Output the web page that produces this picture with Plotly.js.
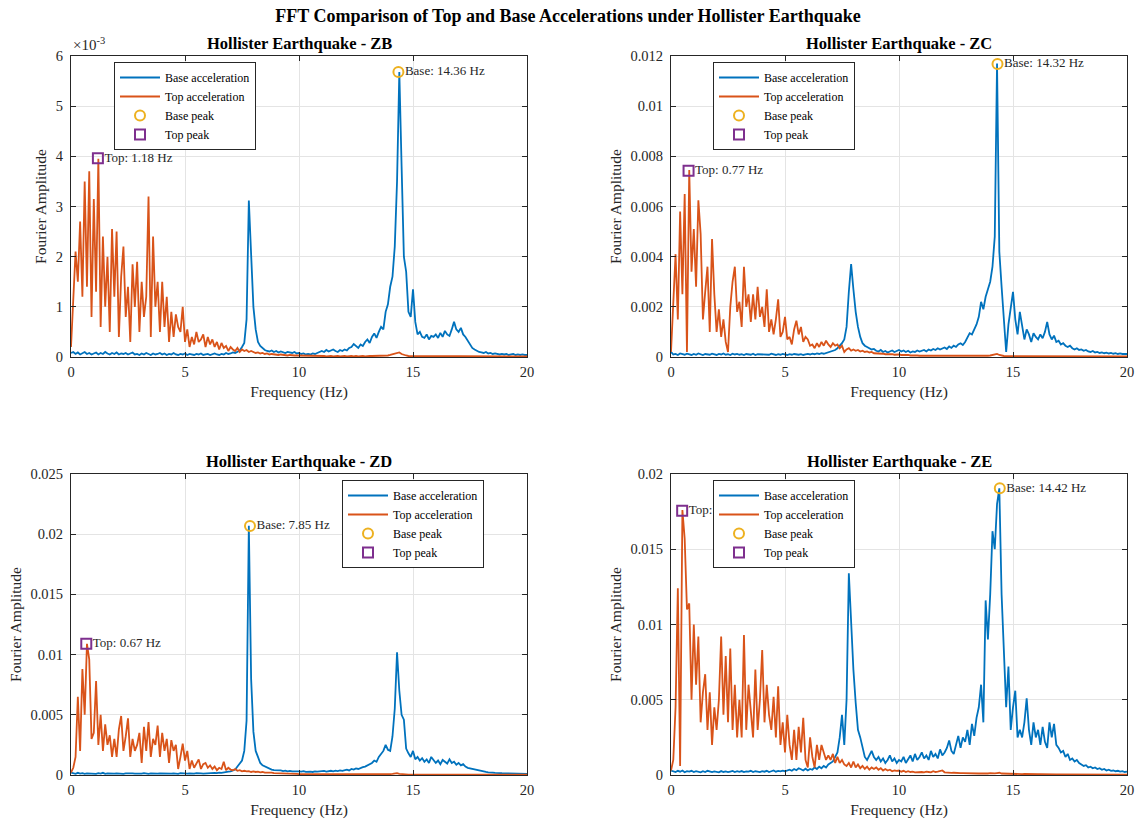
<!DOCTYPE html>
<html>
<head>
<meta charset="utf-8">
<script src="https://cdn.plot.ly/plotly-3.0.1.min.js"></script>
<style>html,body{margin:0;padding:0;background:#fff;}#chart{width:1136px;height:821px;}</style>
</head>
<body>
<div id="chart"></div>
<script>
// Frequency grid (Hz)
const freq = [
0,0.1,0.2,0.3,0.4,0.5,0.6,0.7,0.8,0.9,
1,1.1,1.2,1.3,1.4,1.5,1.6,1.7,1.8,1.9,
2,2.1,2.2,2.3,2.4,2.5,2.6,2.7,2.8,2.9,
3,3.1,3.2,3.3,3.4,3.5,3.6,3.7,3.8,3.9,
4,4.1,4.2,4.3,4.4,4.5,4.6,4.7,4.8,4.9,
5,5.1,5.2,5.3,5.4,5.5,5.6,5.7,5.8,5.9,
6,6.1,6.2,6.3,6.4,6.5,6.6,6.7,6.8,6.9,
7,7.1,7.2,7.3,7.4,7.5,7.6,7.7,7.8,7.9,
8,8.1,8.2,8.3,8.4,8.5,8.6,8.7,8.8,8.9,
9,9.1,9.2,9.3,9.4,9.5,9.6,9.7,9.8,9.9,
10,10.1,10.2,10.3,10.4,10.5,10.6,10.7,10.8,10.9,
11,11.1,11.2,11.3,11.4,11.5,11.6,11.7,11.8,11.9,
12,12.1,12.2,12.3,12.4,12.5,12.6,12.7,12.8,12.9,
13,13.1,13.2,13.3,13.4,13.5,13.6,13.7,13.8,13.9,
14,14.1,14.2,14.3,14.4,14.5,14.6,14.7,14.8,14.9,
15,15.1,15.2,15.3,15.4,15.5,15.6,15.7,15.8,15.9,
16,16.1,16.2,16.3,16.4,16.5,16.6,16.7,16.8,16.9,
17,17.1,17.2,17.3,17.4,17.5,17.6,17.7,17.8,17.9,
18,18.1,18.2,18.3,18.4,18.5,18.6,18.7,18.8,18.9,
19,19.1,19.2,19.3,19.4,19.5,19.6,19.7,19.8,19.9,
20];

// Fourier amplitudes, in units of 1e-3
const zbBase = [
0.08,0.10,0.06,0.09,0.05,0.07,0.10,0.06,0.08,0.05,
0.07,0.09,0.05,0.08,0.06,0.10,0.07,0.05,0.08,0.06,
0.09,0.05,0.07,0.06,0.08,0.05,0.07,0.09,0.05,0.06,
0.04,0.07,0.05,0.08,0.06,0.04,0.07,0.05,0.06,0.08,
0.05,0.07,0.04,0.06,0.05,0.08,0.05,0.04,0.06,0.05,
0.07,0.04,0.06,0.05,0.04,0.06,0.05,0.07,0.04,0.05,
0.06,0.04,0.05,0.07,0.05,0.04,0.06,0.05,0.08,0.06,
0.07,0.09,0.08,0.10,0.13,0.20,0.28,0.75,3.12,2.05,
1.00,0.55,0.30,0.22,0.18,0.14,0.12,0.11,0.13,0.10,
0.12,0.09,0.11,0.10,0.08,0.10,0.09,0.08,0.10,0.07,
0.08,0.06,0.07,0.05,0.06,0.05,0.07,0.06,0.08,0.10,
0.12,0.10,0.14,0.11,0.13,0.15,0.12,0.10,0.14,0.12,
0.15,0.13,0.18,0.20,0.26,0.22,0.18,0.25,0.22,0.30,
0.35,0.28,0.40,0.47,0.38,0.50,0.60,0.55,0.90,1.05,
1.40,1.60,2.20,3.50,5.68,3.80,2.00,1.70,0.90,0.80,
1.35,0.70,0.45,0.50,0.40,0.38,0.45,0.35,0.42,0.40,
0.45,0.38,0.48,0.40,0.52,0.45,0.42,0.55,0.70,0.55,
0.50,0.58,0.45,0.40,0.32,0.25,0.18,0.15,0.12,0.10,
0.09,0.08,0.10,0.07,0.08,0.06,0.07,0.06,0.05,0.06,
0.05,0.06,0.04,0.05,0.06,0.04,0.05,0.04,0.05,0.04,
0.04];
const zbTop = [
0.20,1.10,2.10,1.50,2.70,1.20,3.50,1.40,3.70,0.80,
3.15,1.30,3.95,0.60,2.40,1.00,2.00,0.50,2.55,1.20,
2.50,0.40,1.60,2.20,0.80,1.40,0.30,1.85,1.00,1.90,
0.50,1.50,0.80,1.20,3.20,0.40,2.40,1.00,1.50,0.50,
1.50,0.60,1.20,0.30,0.90,0.40,0.85,0.60,0.50,1.00,
0.30,0.55,0.20,0.40,0.25,0.50,0.30,0.35,0.45,0.20,
0.40,0.25,0.35,0.20,0.30,0.15,0.28,0.18,0.22,0.12,
0.20,0.15,0.12,0.18,0.10,0.15,0.12,0.14,0.10,0.12,
0.10,0.08,0.09,0.07,0.08,0.06,0.07,0.05,0.06,0.05,
0.05,0.04,0.05,0.04,0.04,0.03,0.04,0.03,0.03,0.03,
0.03,0.02,0.03,0.02,0.02,0.03,0.02,0.02,0.02,0.02,
0.02,0.02,0.01,0.02,0.02,0.01,0.02,0.02,0.01,0.02,
0.02,0.01,0.02,0.02,0.01,0.02,0.01,0.02,0.02,0.01,
0.02,0.02,0.02,0.02,0.02,0.02,0.03,0.02,0.03,0.03,
0.04,0.05,0.06,0.07,0.09,0.06,0.04,0.03,0.02,0.02,
0.02,0.02,0.01,0.02,0.01,0.02,0.01,0.01,0.02,0.01,
0.01,0.02,0.01,0.01,0.02,0.01,0.01,0.02,0.01,0.01,
0.01,0.01,0.02,0.01,0.01,0.01,0.02,0.01,0.01,0.01,
0.01,0.01,0.01,0.01,0.01,0.01,0.01,0.01,0.01,0.01,
0.01,0.01,0.01,0.01,0.01,0.01,0.01,0.01,0.01,0.01,
0.01];
const zcBase = [
0.20,0.10,0.12,0.08,0.14,0.10,0.09,0.13,0.11,0.08,
0.12,0.09,0.14,0.10,0.08,0.12,0.11,0.09,0.13,0.10,
0.08,0.12,0.10,0.14,0.09,0.11,0.08,0.13,0.10,0.12,
0.09,0.11,0.08,0.12,0.10,0.09,0.13,0.08,0.11,0.10,
0.12,0.08,0.10,0.09,0.13,0.10,0.08,0.11,0.09,0.12,
0.10,0.08,0.11,0.09,0.12,0.10,0.09,0.11,0.08,0.10,
0.12,0.10,0.13,0.11,0.14,0.12,0.15,0.13,0.16,0.18,
0.20,0.22,0.28,0.35,0.45,0.55,0.70,1.20,2.60,3.70,
2.70,1.80,1.20,0.80,0.55,0.45,0.40,0.35,0.30,0.32,
0.25,0.22,0.28,0.20,0.24,0.18,0.22,0.26,0.20,0.24,
0.28,0.22,0.26,0.20,0.25,0.18,0.22,0.20,0.26,0.22,
0.25,0.28,0.22,0.30,0.26,0.32,0.28,0.35,0.30,0.34,
0.38,0.32,0.42,0.36,0.45,0.40,0.50,0.55,0.48,0.60,
0.80,0.95,0.90,1.10,1.30,1.60,2.20,1.90,2.40,2.70,
3.00,3.60,4.80,11.70,4.20,2.80,1.60,0.20,1.30,2.00,
2.60,1.50,0.90,1.80,1.20,0.70,1.10,0.90,0.60,0.95,
0.80,0.70,0.90,0.75,1.00,1.40,0.90,0.70,0.85,0.60,
0.65,0.50,0.55,0.45,0.40,0.45,0.35,0.30,0.35,0.28,
0.30,0.25,0.28,0.22,0.20,0.24,0.18,0.20,0.16,0.18,
0.15,0.17,0.14,0.16,0.13,0.15,0.12,0.14,0.12,0.13,
0.12];
const zcTop = [
0.20,2.30,4.10,1.50,5.80,2.50,6.50,0.20,7.45,3.40,
5.10,2.80,6.25,4.90,1.50,2.60,3.60,1.00,4.70,2.50,
1.00,1.90,0.80,1.50,0.60,0.20,2.00,3.00,3.60,1.80,
2.20,1.20,3.60,2.00,2.50,1.40,2.50,1.50,2.80,1.60,
2.00,1.20,2.70,1.00,1.50,0.90,1.50,2.30,0.80,1.00,
1.60,0.70,0.80,0.50,1.10,1.45,0.90,1.20,0.60,0.80,
0.70,0.45,0.50,0.35,0.55,0.40,0.60,0.45,0.65,0.50,
0.40,0.55,0.45,0.50,0.35,0.45,0.20,0.30,0.35,0.25,
0.30,0.25,0.28,0.22,0.25,0.20,0.22,0.18,0.20,0.15,
0.15,0.14,0.12,0.13,0.11,0.12,0.10,0.11,0.09,0.10,
0.10,0.08,0.09,0.07,0.08,0.06,0.07,0.06,0.06,0.05,
0.05,0.05,0.04,0.05,0.04,0.04,0.03,0.04,0.03,0.03,
0.03,0.03,0.03,0.03,0.03,0.03,0.03,0.03,0.03,0.03,
0.03,0.03,0.03,0.03,0.03,0.03,0.04,0.04,0.05,0.05,
0.06,0.08,0.10,0.12,0.08,0.05,0.04,0.03,0.03,0.03,
0.03,0.02,0.03,0.02,0.02,0.03,0.02,0.02,0.02,0.02,
0.02,0.02,0.02,0.02,0.02,0.02,0.02,0.02,0.02,0.02,
0.02,0.02,0.02,0.02,0.02,0.02,0.02,0.02,0.02,0.02,
0.02,0.02,0.02,0.02,0.02,0.02,0.02,0.02,0.02,0.02,
0.02,0.02,0.02,0.02,0.02,0.02,0.02,0.02,0.02,0.02,
0.02];
const zdBase = [
0.20,0.15,0.10,0.18,0.12,0.15,0.10,0.14,0.12,0.16,
0.12,0.10,0.15,0.12,0.18,0.10,0.14,0.12,0.15,0.11,
0.14,0.12,0.16,0.10,0.13,0.15,0.11,0.14,0.12,0.10,
0.13,0.11,0.15,0.12,0.10,0.14,0.12,0.16,0.11,0.13,
0.12,0.15,0.10,0.13,0.11,0.14,0.12,0.10,0.15,0.12,
0.14,0.11,0.13,0.10,0.12,0.15,0.11,0.13,0.12,0.14,
0.13,0.16,0.14,0.18,0.15,0.20,0.17,0.22,0.25,0.28,
0.30,0.35,0.45,0.70,1.00,1.20,2.00,4.50,20.70,8.00,
3.60,2.00,1.50,1.00,0.80,0.70,0.60,0.50,0.45,0.40,
0.40,0.35,0.38,0.32,0.36,0.30,0.34,0.30,0.32,0.28,
0.30,0.28,0.32,0.26,0.30,0.28,0.25,0.30,0.28,0.32,
0.30,0.34,0.28,0.32,0.35,0.30,0.36,0.33,0.38,0.35,
0.40,0.45,0.38,0.50,0.45,0.55,0.50,0.60,0.65,0.70,
0.80,0.90,1.00,1.20,1.10,1.50,1.80,2.00,2.50,2.10,
2.00,3.20,5.50,10.20,7.00,5.00,4.60,2.20,1.80,1.50,
2.00,1.30,1.50,1.20,1.40,1.10,1.30,1.00,1.50,1.20,
1.00,1.20,0.90,1.25,1.10,0.95,1.30,1.00,1.10,0.85,
1.00,0.80,0.90,0.70,0.60,0.55,0.50,0.45,0.40,0.35,
0.30,0.28,0.25,0.22,0.24,0.20,0.18,0.20,0.16,0.15,
0.14,0.15,0.12,0.13,0.11,0.12,0.10,0.11,0.10,0.10,
0.10];
const zdTop = [
0.20,0.60,1.50,6.50,2.00,8.80,5.00,10.90,9.60,3.00,
3.50,7.80,2.50,5.00,2.00,4.20,2.50,3.30,1.50,3.00,
1.50,3.80,4.90,2.00,3.20,4.70,1.50,3.00,2.00,2.50,
3.50,1.00,4.00,2.00,4.40,1.50,3.00,2.50,4.10,1.50,
3.50,2.00,3.00,1.00,2.90,2.00,2.50,0.50,1.50,2.60,
1.20,2.00,0.50,1.20,0.60,1.00,1.30,0.50,0.90,1.00,
0.60,0.80,0.50,0.70,0.40,0.60,0.50,1.10,0.40,0.60,
0.45,0.40,0.50,0.35,0.40,0.30,0.35,0.30,0.32,0.25,
0.30,0.25,0.28,0.22,0.25,0.20,0.22,0.18,0.20,0.15,
0.15,0.14,0.12,0.13,0.12,0.11,0.10,0.10,0.09,0.09,
0.08,0.08,0.07,0.07,0.06,0.06,0.06,0.05,0.05,0.05,
0.05,0.04,0.04,0.04,0.04,0.03,0.03,0.03,0.03,0.03,
0.03,0.03,0.03,0.03,0.03,0.03,0.03,0.03,0.03,0.03,
0.03,0.03,0.03,0.04,0.04,0.04,0.05,0.05,0.06,0.07,
0.08,0.10,0.12,0.15,0.10,0.07,0.05,0.04,0.03,0.03,
0.02,0.02,0.02,0.02,0.02,0.02,0.02,0.02,0.02,0.02,
0.02,0.02,0.02,0.02,0.02,0.02,0.02,0.02,0.02,0.02,
0.02,0.02,0.02,0.02,0.02,0.02,0.02,0.02,0.02,0.02,
0.02,0.02,0.02,0.02,0.02,0.02,0.02,0.02,0.02,0.02,
0.02,0.02,0.02,0.02,0.02,0.02,0.02,0.02,0.02,0.02,
0.02];
const zeBase = [
0.30,0.25,0.20,0.28,0.22,0.30,0.18,0.25,0.22,0.28,
0.20,0.26,0.22,0.18,0.25,0.20,0.28,0.22,0.19,0.24,
0.22,0.18,0.26,0.20,0.24,0.19,0.23,0.27,0.20,0.25,
0.21,0.26,0.19,0.24,0.22,0.28,0.20,0.25,0.23,0.19,
0.26,0.22,0.28,0.20,0.25,0.30,0.22,0.27,0.24,0.29,
0.25,0.30,0.35,0.28,0.40,0.32,0.45,0.38,0.30,0.42,
0.30,0.40,0.35,0.50,0.40,0.55,0.45,0.60,0.50,0.70,
0.80,0.90,1.20,1.50,2.50,4.00,2.00,5.00,13.40,9.70,
7.00,4.80,3.00,2.50,1.80,1.20,1.00,1.30,1.60,1.20,
1.00,1.20,0.90,1.10,0.80,1.00,1.30,0.90,1.10,0.80,
1.00,0.90,1.20,0.80,1.10,1.30,0.90,1.40,1.00,1.20,
1.50,1.10,1.30,1.00,1.60,1.20,1.40,1.10,1.70,1.30,
1.50,1.80,2.30,1.60,1.40,2.00,2.60,1.80,2.50,2.20,
3.00,2.00,3.40,2.60,3.80,4.50,6.00,3.50,11.60,9.00,
12.00,16.20,15.00,18.00,19.05,12.00,8.00,4.50,7.20,3.00,
4.50,5.60,2.50,3.00,2.50,3.50,5.10,3.00,2.00,3.50,
2.50,3.00,2.00,3.20,2.20,1.80,3.50,2.50,3.40,2.00,
1.80,1.50,1.60,1.20,1.40,1.00,1.10,0.90,1.00,0.80,
0.70,0.60,0.65,0.50,0.55,0.45,0.50,0.40,0.45,0.35,
0.40,0.30,0.35,0.28,0.30,0.25,0.28,0.22,0.25,0.20,
0.22];
const zeTop = [
0.30,1.00,4.50,12.40,0.60,17.60,15.70,11.00,11.40,5.00,
10.00,6.00,9.20,3.50,5.50,6.70,3.00,5.50,2.00,4.50,
3.00,5.00,9.20,4.00,7.90,3.50,8.40,3.00,6.00,2.50,
5.00,2.50,9.30,3.00,6.00,4.00,2.50,7.00,3.00,5.00,
8.30,3.50,6.00,4.00,3.00,5.20,2.50,5.90,2.00,3.50,
1.50,4.00,2.00,1.00,3.00,1.00,3.20,1.50,3.80,1.00,
0.50,2.50,1.20,0.50,2.00,1.00,2.00,1.50,1.00,1.30,
1.00,1.40,0.80,1.20,0.80,1.00,0.70,0.60,0.80,0.50,
0.90,0.50,0.70,0.45,0.60,0.40,0.55,0.35,0.50,0.40,
0.50,0.35,0.45,0.30,0.40,0.30,0.35,0.25,0.30,0.28,
0.30,0.22,0.28,0.20,0.25,0.20,0.22,0.18,0.20,0.22,
0.20,0.18,0.22,0.20,0.18,0.25,0.20,0.22,0.28,0.30,
0.18,0.15,0.16,0.14,0.15,0.13,0.14,0.12,0.13,0.12,
0.12,0.11,0.12,0.10,0.11,0.10,0.11,0.10,0.12,0.10,
0.12,0.10,0.11,0.13,0.15,0.10,0.09,0.08,0.09,0.08,
0.08,0.07,0.08,0.07,0.06,0.07,0.06,0.06,0.05,0.06,
0.05,0.05,0.06,0.05,0.04,0.05,0.04,0.05,0.04,0.04,
0.04,0.04,0.05,0.04,0.04,0.03,0.04,0.04,0.03,0.04,
0.03,0.04,0.03,0.03,0.04,0.03,0.03,0.03,0.03,0.03,
0.03,0.03,0.03,0.03,0.03,0.03,0.03,0.03,0.03,0.03,
0.03];

// Panels
const panelNames = ['ZB', 'ZC', 'ZD', 'ZE'];
const baseSeries = [zbBase, zcBase, zdBase, zeBase];
const topSeries = [zbTop, zcTop, zdTop, zeTop];
// Peak values (frequency in Hz, amplitude in units of 1e-3)
const basePeakFreq = [14.36, 14.32, 7.85, 14.42];
const basePeakAmp = [5.68, 11.68, 20.68, 19.05];
const topPeakFreq = [1.18, 0.77, 0.67, 0.49];
const topPeakAmp = [3.96, 7.43, 10.90, 17.56];
// Axis ticks (units of 1e-3) and their labels
const yMax = [6, 12, 25, 20];
const yTickVals = [[0,1,2,3,4,5,6],[0,2,4,6,8,10,12],[0,5,10,15,20,25],[0,5,10,15,20]];
const yTickText = [
  ['0','1','2','3','4','5','6'],
  ['0','0.002','0.004','0.006','0.008','0.01','0.012'],
  ['0','0.005','0.01','0.015','0.02','0.025'],
  ['0','0.005','0.01','0.015','0.02']
];
const xTickVals = [0, 5, 10, 15, 20];
const xTickText = ['0', '5', '10', '15', '20'];
const legendLabels = ['Base acceleration', 'Top acceleration', 'Base peak', 'Top peak'];

const FONT = 'Liberation Serif, Times New Roman, serif';
const TXT = '#262626';
const W = 1136, H = 821;
const GAP = '\u00a0\u00a0';  // small gap between a peak marker and its label
// axes boxes in pixels: [left, right, top, bottom]
const boxes = [[71, 527, 56, 357], [671, 1127, 56, 357], [71, 527, 474, 775], [671, 1127, 474, 775]];
const legendPos = [[114, 62], [713, 62], [342, 480], [713, 480]];

const traces = [];
const layout = {
  width: W, height: H, autosize: false,
  margin: {l: 0, r: 0, t: 0, b: 0},
  paper_bgcolor: '#ffffff', plot_bgcolor: '#ffffff',
  font: {family: FONT, color: TXT},
  title: {
    text: '<b>FFT Comparison of Top and Base Accelerations under Hollister Earthquake</b>',
    font: {family: FONT, size: 18, color: '#000000'},
    x: 0.5, xanchor: 'center', xref: 'paper',
    y: 1 - 16 / H, yanchor: 'middle', yref: 'paper'
  },
  annotations: [],
  showlegend: true
};

panelNames.forEach((name, k) => {
  const n = k + 1;
  const xa = 'x' + (n === 1 ? '' : n), ya = 'y' + (n === 1 ? '' : n);
  const lg = 'legend' + (n === 1 ? '' : n);
  const [l, r, t, b] = boxes[k];
  traces.push({
    x: freq, y: baseSeries[k], xaxis: xa, yaxis: ya, type: 'scatter', mode: 'lines',
    name: legendLabels[0], legend: lg, line: {color: '#0072BD', width: 1.8}, hoverinfo: 'skip'
  });
  traces.push({
    x: freq, y: topSeries[k], xaxis: xa, yaxis: ya, type: 'scatter', mode: 'lines',
    name: legendLabels[1], legend: lg, line: {color: '#D95319', width: 1.8}, hoverinfo: 'skip'
  });
  traces.push({
    x: [basePeakFreq[k]], y: [basePeakAmp[k]], xaxis: xa, yaxis: ya, type: 'scatter', mode: 'markers',
    name: legendLabels[2], legend: lg, cliponaxis: false,
    marker: {symbol: 'circle-open', size: 10, color: '#EDB120', line: {width: 2, color: '#EDB120'}}
  });
  traces.push({
    x: [topPeakFreq[k]], y: [topPeakAmp[k]], xaxis: xa, yaxis: ya, type: 'scatter', mode: 'markers',
    name: legendLabels[3], legend: lg, cliponaxis: false,
    marker: {symbol: 'square-open', size: 10, color: '#7E2F8E', line: {width: 2, color: '#7E2F8E'}}
  });
  // peak labels (drawn as trace text, so legends sit on top of them)
  traces.push({
    x: [basePeakFreq[k], topPeakFreq[k]], y: [basePeakAmp[k], topPeakAmp[k]],
    text: [GAP + 'Base: ' + basePeakFreq[k].toFixed(2) + ' Hz', GAP + 'Top: ' + topPeakFreq[k].toFixed(2) + ' Hz'],
    xaxis: xa, yaxis: ya, type: 'scatter', mode: 'text', textposition: 'middle right',
    showlegend: false, legend: lg, cliponaxis: false, hoverinfo: 'skip',
    textfont: {family: FONT, size: 13, color: TXT}
  });

  const axCommon = {
    showline: true, linecolor: TXT, linewidth: 1, mirror: 'ticks',
    ticks: 'inside', ticklen: 5, tickwidth: 1, tickcolor: TXT,
    showgrid: true, gridcolor: '#e4e4e4', gridwidth: 1, zeroline: false,
    tickfont: {family: FONT, size: 14.5, color: TXT}, fixedrange: true
  };
  layout['xaxis' + (n === 1 ? '' : n)] = Object.assign({}, axCommon, {
    domain: [l / W, r / W], anchor: ya, range: [0, 20],
    tickmode: 'array', tickvals: xTickVals, ticktext: xTickText, ticklabelstandoff: 2,
    title: {text: 'Frequency (Hz)', font: {family: FONT, size: 15.5, color: TXT}, standoff: 6}
  });
  layout['yaxis' + (n === 1 ? '' : n)] = Object.assign({}, axCommon, {
    domain: [1 - b / H, 1 - t / H], anchor: xa, range: [0, yMax[k]],
    tickmode: 'array', tickvals: yTickVals[k], ticktext: yTickText[k], ticklabelstandoff: 4,
    title: {text: 'Fourier Amplitude', font: {family: FONT, size: 15.5, color: TXT}, standoff: 5}
  });
  layout[lg] = {
    x: legendPos[k][0] / W, y: 1 - legendPos[k][1] / H, xanchor: 'left', yanchor: 'top',
    xref: 'paper', yref: 'paper',
    bgcolor: '#ffffff', bordercolor: TXT, borderwidth: 1,
    font: {family: FONT, size: 12, color: '#000000'},
    tracegroupgap: 0, itemwidth: 40
  };
  // subplot title
  layout.annotations.push({
    text: '<b>Hollister Earthquake - ' + name + '</b>', xref: 'paper', yref: 'paper',
    x: (l + r) / 2 / W, y: 1 - t / H, xanchor: 'center', yanchor: 'bottom', yshift: 1,
    showarrow: false, font: {family: FONT, size: 16.5, color: '#000000'}
  });
});

// exponent label for the ZB panel
layout.annotations.push({
  text: '×10<sup>-3</sup>', xref: 'paper', yref: 'paper',
  x: 71 / W, y: 1 - 56 / H, xanchor: 'left', yanchor: 'bottom', yshift: 1,
  showarrow: false, font: {family: FONT, size: 15, color: TXT}
});

Plotly.newPlot('chart', traces, layout, {staticPlot: true, displayModeBar: false});
</script>
</body>
</html>
